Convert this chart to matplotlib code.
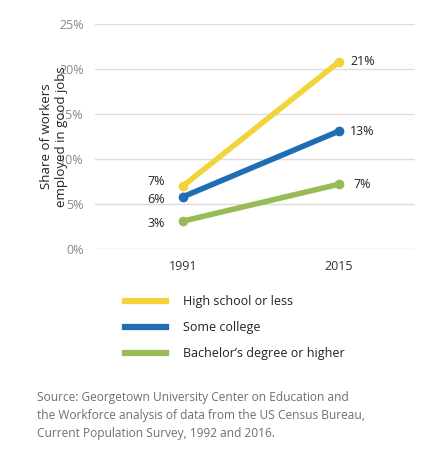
import matplotlib
matplotlib.use("Agg")
import matplotlib.pyplot as plt

plt.rcParams["font.family"] = ["Open Sans", "DejaVu Sans"]

YEARS = ["1991", "2015"]
SERIES = ["High school or less", "Some college", "Bachelor’s degree or higher"]
VALUES = [[7.0, 20.8], [5.8, 13.1], [3.1, 7.2]]
LABELS = [["7%", "21%"], ["6%", "13%"], ["3%", "7%"]]
COLORS = ["#F2D43A", "#1F6DB3", "#97BC55"]
Y_TICKS = [0, 5, 10, 15, 20, 25]

W, H = 446, 472
fig = plt.figure(figsize=(W / 100, H / 100), dpi=100)
ax = fig.add_axes([95 / W, 1 - 249 / H, 320 / W, 225 / H])

x = [0, 1]
for vals, c in zip(VALUES, COLORS):
    ax.plot(x, vals, color=c, lw=4, solid_capstyle="butt", zorder=3)
    ax.scatter(x, vals, color=c, s=36, zorder=4)

# point labels
offs_left = [(-0.17, 0.5), (-0.17, -0.3), (-0.17, -0.3)]
for vals, lab, (dx, dy) in zip(VALUES, LABELS, offs_left):
    ax.text(0 + dx, vals[0] + dy, lab[0], ha="center", va="center", fontsize=9, color="#222")
    ax.text(1.15, vals[1], lab[1], ha="center", va="center", fontsize=9, color="#222")

ax.set_xlim(-0.564, 1.487)
ax.set_ylim(0, 25)
ax.set_yticks(Y_TICKS)
ax.set_yticklabels([f"{t}%" for t in Y_TICKS], color="#888", fontsize=9)
ax.set_xticks(x)
ax.set_xticklabels(YEARS, fontsize=9, color="#333")
ax.tick_params(length=0, pad=8)
ax.grid(axis="y", color="#dddddd", lw=1)
ax.set_axisbelow(True)
for s in ax.spines.values():
    s.set_visible(False)
ax.set_ylabel("Share of workers\nemployed in good jobs", fontsize=9.5, color="#222", labelpad=-6)

# legend
for i, (name, c) in enumerate(zip(SERIES, COLORS)):
    yy = 1 - (301 + i * 26) / H
    fig.add_artist(plt.Line2D([125 / W, 166 / W], [yy, yy], color=c, lw=4.5,
                              transform=fig.transFigure))
    fig.text(183 / W, yy, name, va="center", fontsize=9, color="#222")

fig.text(37 / W, 1 - 416 / H,
         "Source: Georgetown University Center on Education and\n"
         "the Workforce analysis of data from the US Census Bureau,\n"
         "Current Population Survey, 1992 and 2016.",
         va="center", fontsize=8.6, color="#6f6f6f", linespacing=1.5)

fig.savefig("out.png", dpi=100, facecolor="white")
